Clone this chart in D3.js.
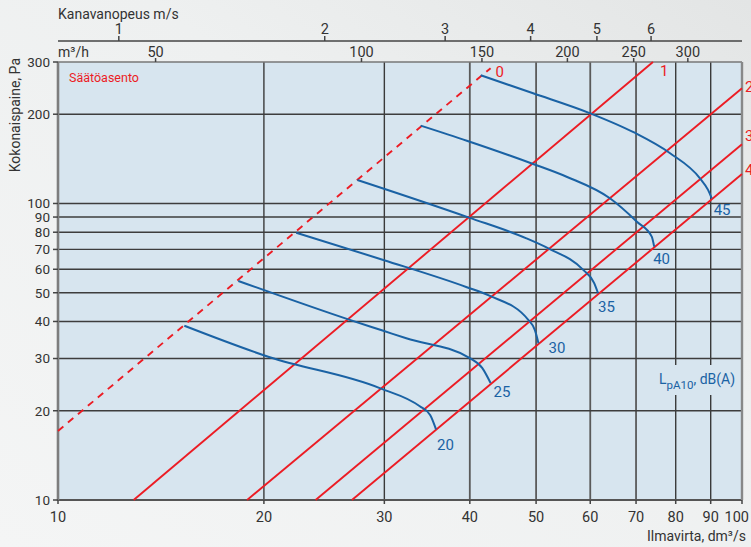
<!DOCTYPE html>
<html>
<head>
<meta charset="utf-8">
<script src="https://cdn.jsdelivr.net/npm/d3@7/dist/d3.min.js"></script>
<style>
  html, body { margin: 0; padding: 0; }
  body { width: 751px; height: 547px; overflow: hidden; }
  text { font-family: Roboto, "Noto Sans", sans-serif; }
</style>
</head>
<body>
<svg id="chart" width="751" height="547"></svg>
<script>
// ---------- data ----------
const flowTicks = [10, 20, 30, 40, 50, 60, 70, 80, 90, 100];          // dm3/s
const pressureTicks = [10, 20, 30, 40, 50, 60, 70, 80, 90, 100, 200, 300]; // Pa
const m3hTicks = [50, 100, 150, 200, 250, 300];                      // m3/h
const velocityTicks = [1, 2, 3, 4, 5, 6];                            // m/s
const gridFlow = [20, 30, 40, 50, 60, 70, 80, 90];
const gridPressure = [20, 30, 40, 50, 60, 70, 80, 90, 100, 200];
const ductDiameter = 125; // mm

const damperNames = ["0", "1", "2", "3", "4"];
const damperLines = [
  [[10, 17.1], [42.9, 286]],
  [[12.9, 10], [74.1, 300]],
  [[18.9, 10], [100, 244.6]],
  [[23.8, 10], [100, 158.4]],
  [[26.9, 10], [100, 125.7]]
];

const noiseLevels = [20, 25, 30, 35, 40, 45];
const noiseCurves = [
  [[15.3, 38.7], [20.4, 30.3], [29.6, 23.8], [33.8, 20.7], [35.0, 19.35], [35.7, 17.3]],
  [[18.35, 54.8], [26.7, 40.5], [29.9, 37.2], [32.3, 35.1], [40.0, 30.1], [41.7, 27.9], [42.9, 24.8]],
  [[22.3, 79.7], [29.9, 64.5], [39.6, 52.2], [42.8, 48.8], [48.7, 40.5], [49.8, 37.4], [50.4, 33.8]],
  [[27.4, 120], [39.9, 89.6], [48.4, 76.3], [52.1, 70.6], [58.6, 59.7], [60.8, 53.9], [61.6, 49.8]],
  [[33.9, 183], [39.6, 162.8], [49.5, 135.9], [55.4, 123.1], [64.1, 104.1], [70.2, 86.8], [73.8, 77.3], [74.4, 71.5]],
  [[41.5, 270.6], [49.5, 235.3], [60.0, 201.4], [69.4, 173.9], [78.5, 147.7], [86.8, 121.6], [89.2, 111.1], [90.3, 104.1]]
];

// ---------- layout (positions / styles) ----------
const noiseLabelOffsets = [[1, 21], [3, 14], [10, 10], [0, 19], [-1, 17], [2, 17]];
const damperLabelOffsets = [[5, 9], [7, 14], [3, 4], [3, -3], [3, 1]];
const M = { left: 58, right: 742, top: 62, bottom: 500 };
const RED = "#ec1c24", BLUE = "#1a62a4", INK = "#333";

const svg = d3.select("#chart");

// background
const defs = svg.append("defs");
const grad = defs.append("linearGradient").attr("id", "bg").attr("x1", "0").attr("y1", "1").attr("x2", "1").attr("y2", "0");
grad.append("stop").attr("offset", "0").attr("stop-color", "#f4f5f5");
grad.append("stop").attr("offset", "0.6").attr("stop-color", "#eef0f0");
grad.append("stop").attr("offset", "1").attr("stop-color", "#e3e5e5");
svg.append("rect").attr("width", 751).attr("height", 547).attr("fill", "url(#bg)");

// scales
const x = d3.scaleLog().domain([10, 100]).range([M.left, M.right]);
const y = d3.scaleLog().domain([10, 300]).range([M.bottom, M.top]);
const area = Math.PI * Math.pow(ductDiameter / 2000, 2) * 1000; // dm3/s per m/s
const xm3h = d3.scaleLog().domain([10 * 3.6, 100 * 3.6]).range([M.left, M.right]);
const xVel = d3.scaleLog().domain([10 / area, 100 / area]).range([M.left, M.right]);

// plot area
svg.append("rect").attr("x", M.left).attr("y", M.top)
  .attr("width", M.right - M.left).attr("height", M.bottom - M.top)
  .attr("fill", "#d7e5ef");

// grid
const grid = svg.append("g").attr("stroke", "#3d3d3d").attr("stroke-width", 1.4);
grid.selectAll(".gx").data(gridFlow).join("line")
  .attr("x1", d => x(d)).attr("x2", d => x(d))
  .attr("y1", M.top).attr("y2", M.bottom)
  .attr("stroke", d => (d >= 40 && d <= 70) ? "#5a5a5a" : "#3a3a3a")
  .attr("stroke-width", d => (d >= 40 && d <= 70) ? 1.8 : 1.4);
grid.selectAll(".gy").data(gridPressure).join("line")
  .attr("x1", M.left).attr("x2", M.right)
  .attr("y1", d => y(d)).attr("y2", d => y(d));

// frame
const frame = svg.append("g");
frame.append("line").attr("x1", M.left).attr("x2", M.right).attr("y1", M.top).attr("y2", M.top).attr("stroke", "#777").attr("stroke-width", 1.6);
frame.append("line").attr("x1", M.left).attr("x2", M.right).attr("y1", M.bottom).attr("y2", M.bottom).attr("stroke", "#555").attr("stroke-width", 2);
frame.append("line").attr("x1", M.left).attr("x2", M.left).attr("y1", M.top).attr("y2", M.bottom + 1).attr("stroke", "#7d7d7d").attr("stroke-width", 2.6);
frame.append("line").attr("x1", M.right).attr("x2", M.right).attr("y1", M.top).attr("y2", M.bottom).attr("stroke", "#888").attr("stroke-width", 2.4);

// legend background (covers grid) + text
svg.append("rect").attr("x", 652).attr("y", 365).attr("width", 86).attr("height", 30).attr("fill", "#d7e5ef");
const leg = svg.append("text").attr("x", 659).attr("y", 384).attr("fill", BLUE).attr("font-size", 14);
leg.append("tspan").text("L");
leg.append("tspan").attr("dy", 5).attr("font-size", 11.5).text("pA10");
leg.append("tspan").attr("dy", -5).text(", dB(A)");

svg.append("text").attr("x", 69).attr("y", 82).attr("fill", RED).attr("font-size", 12.5).text("Säätöasento");

// damper lines
const line = d3.line().x(d => x(d[0])).y(d => y(d[1]));
svg.append("g").selectAll("path").data(damperLines).join("path")
  .attr("d", line).attr("fill", "none").attr("stroke", RED).attr("stroke-width", 1.9)
  .attr("stroke-dasharray", (d, i) => i === 0 ? "7,6" : null);
svg.append("g").selectAll("text").data(damperLines).join("text")
  .attr("x", (d, i) => x(d[1][0]) + damperLabelOffsets[i][0])
  .attr("y", (d, i) => y(d[1][1]) + damperLabelOffsets[i][1])
  .attr("fill", RED).attr("font-size", 15)
  .text((d, i) => damperNames[i]);

// noise curves
const curve = d3.line().x(d => x(d[0])).y(d => y(d[1])).curve(d3.curveMonotoneX);
svg.append("g").selectAll("path").data(noiseCurves).join("path")
  .attr("d", curve).attr("fill", "none").attr("stroke", BLUE).attr("stroke-width", 2);
svg.append("g").selectAll("text").data(noiseCurves).join("text")
  .attr("x", (d, i) => x(d[d.length - 1][0]) + noiseLabelOffsets[i][0])
  .attr("y", (d, i) => y(d[d.length - 1][1]) + noiseLabelOffsets[i][1])
  .attr("fill", BLUE).attr("font-size", 15)
  .text((d, i) => noiseLevels[i]);

// left axis
const ax = svg.append("g").attr("fill", INK).attr("font-size", 13.5);
ax.selectAll("line").data(pressureTicks).join("line")
  .attr("x1", M.left - 5).attr("x2", M.left).attr("y1", d => y(d)).attr("y2", d => y(d))
  .attr("stroke", "#444").attr("stroke-width", 1.5);
ax.selectAll("text").data(pressureTicks).join("text")
  .attr("x", M.left - 8).attr("y", d => y(d)).attr("dy", "0.36em")
  .attr("text-anchor", "end").text(d => d);

// bottom axis
const bx = svg.append("g").attr("fill", INK).attr("font-size", 14.5);
bx.selectAll("line").data(flowTicks).join("line")
  .attr("x1", d => x(d)).attr("x2", d => x(d)).attr("y1", M.bottom).attr("y2", M.bottom + 4)
  .attr("stroke", "#444").attr("stroke-width", 1.5);
bx.selectAll("text").data(flowTicks).join("text")
  .attr("x", d => d === 100 ? 749 : x(d)).attr("y", 522)
  .attr("text-anchor", d => d === 100 ? "end" : "middle").text(d => d);
svg.append("text").attr("x", 746).attr("y", 541).attr("text-anchor", "end")
  .attr("fill", INK).attr("font-size", 14).text("Ilmavirta, dm³/s");

// top m3/h axis
const tx = svg.append("g").attr("fill", INK).attr("font-size", 14.5);
tx.selectAll("line").data(m3hTicks).join("line")
  .attr("x1", d => xm3h(d)).attr("x2", d => xm3h(d)).attr("y1", M.top - 4).attr("y2", M.top)
  .attr("stroke", "#444").attr("stroke-width", 1.5);
tx.selectAll("text").data(m3hTicks).join("text")
  .attr("x", d => xm3h(d)).attr("y", 57).attr("text-anchor", "middle").text(d => d);
svg.append("text").attr("x", 58).attr("y", 57).attr("fill", INK).attr("font-size", 14).text("m³/h");

// velocity axis
const vx = svg.append("g").attr("fill", INK).attr("font-size", 14.5);
vx.append("line").attr("x1", M.left).attr("x2", M.right).attr("y1", 41).attr("y2", 41)
  .attr("stroke", "#444").attr("stroke-width", 1.5);
vx.selectAll("line.t").data(velocityTicks).join("line").attr("class", "t")
  .attr("x1", d => xVel(d)).attr("x2", d => xVel(d)).attr("y1", 36).attr("y2", 41)
  .attr("stroke", "#444").attr("stroke-width", 1.5);
vx.selectAll("text").data(velocityTicks).join("text")
  .attr("x", d => xVel(d)).attr("y", 34).attr("text-anchor", "middle").text(d => d);
svg.append("text").attr("x", 58).attr("y", 19).attr("fill", INK).attr("font-size", 14).text("Kanavanopeus m/s");

// y title
svg.append("text").attr("transform", "translate(20,58) rotate(-90)")
  .attr("text-anchor", "end").attr("fill", INK).attr("font-size", 14).text("Kokonaispaine, Pa");
</script>
</body>
</html>
